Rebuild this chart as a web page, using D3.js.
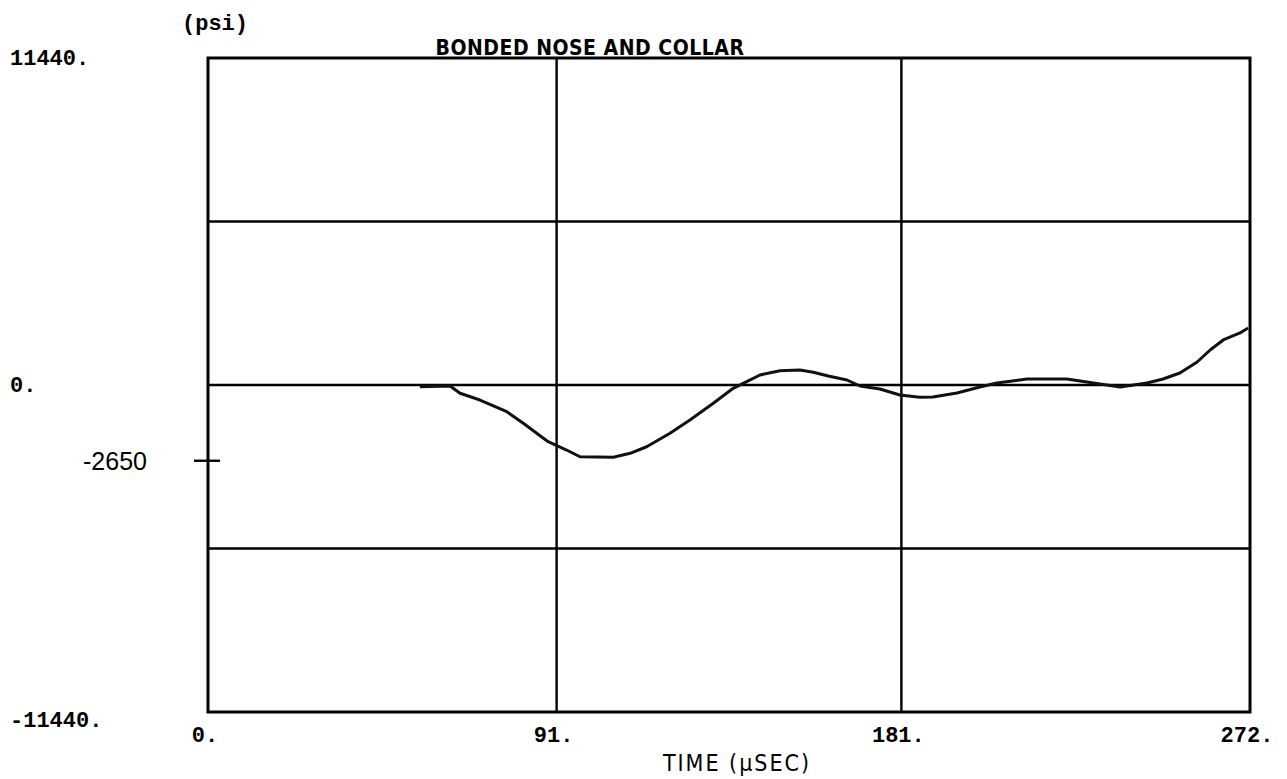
<!DOCTYPE html>
<html>
<head>
<meta charset="utf-8">
<script src="https://cdn.jsdelivr.net/npm/d3@7"></script>
<style>
  body { margin: 0; background: #fff; }
  .frame, .grid { fill: none; stroke: #000; }
  .trace { fill: none; stroke: #111; stroke-width: 3; stroke-linejoin: round; }
  .num { font-family: "Liberation Mono", monospace; font-weight: bold; font-size: 22px; }
</style>
</head>
<body>
<script>
// time (microseconds) and stress (psi)
var timeUs = [55.3, 63.2, 65.8, 71.0, 78.0, 82.3, 85.8, 88.8, 93.6, 97.1, 105.8, 110.2,
  114.5, 120.6, 125.8, 131.9, 137.1, 139.7, 144.1, 149.3, 154.5, 158.0, 161.9, 166.8,
  170.2, 175.4, 180.6, 185.8, 189.2, 195.5, 201.5, 205.9, 213.8, 224.2, 229.4, 238.1,
  245.1, 249.3, 253.7, 258.2, 261.6, 265.0, 269.4, 271.5];
var stressPsi = [-60, -35, -290, -525, -935, -1340, -1690, -1985, -2275, -2510, -2530, -2390,
  -2160, -1690, -1225, -640, -115, 60, 350, 500, 525, 445, 315, 175,
  -35, -140, -350, -430, -420, -280, -70, 70, 210, 210, 105, -70,
  70, 210, 420, 805, 1225, 1575, 1820, 1995];

var xTicks = [0, 91, 181, 272];
var xTickLabels = ["0.", "91.", "181.", "272."];
var yTicks = [11440, 0, -11440];
var yTickLabels = ["11440.", "0.", "-11440."];
var yGrid = [5720, 0, -5720];
var minMark = -2650;

var width = 1287, height = 779;
var margin = { top: 58, right: 37, bottom: 67, left: 208 };

var svg = d3.select("body").append("svg")
  .attr("width", width)
  .attr("height", height);

var x = d3.scaleLinear().domain([0, 272]).range([margin.left, width - margin.right]);
var y = d3.scaleLinear().domain([-11440, 11440]).range([height - margin.bottom, margin.top]);

// grid lines
svg.selectAll(".hgrid")
  .data(yGrid)
  .enter().append("line")
  .attr("class", "grid")
  .attr("x1", x(0)).attr("x2", x(272))
  .attr("y1", function (d) { return y(d); })
  .attr("y2", function (d) { return y(d); })
  .attr("stroke-width", 2.4);

svg.selectAll(".vgrid")
  .data(xTicks.slice(1, 3))
  .enter().append("line")
  .attr("class", "grid")
  .attr("y1", y(11440)).attr("y2", y(-11440))
  .attr("x1", function (d) { return x(d); })
  .attr("x2", function (d) { return x(d); })
  .attr("stroke-width", 2.4);

// frame
svg.append("rect")
  .attr("class", "frame")
  .attr("x", x(0)).attr("y", y(11440))
  .attr("width", x(272) - x(0))
  .attr("height", y(-11440) - y(11440))
  .attr("stroke-width", 3);

// marker for the minimum
svg.append("line")
  .attr("x1", x(0) - 14).attr("x2", x(0) + 12)
  .attr("y1", y(minMark)).attr("y2", y(minMark))
  .attr("stroke", "#000").attr("stroke-width", 2.4);

svg.append("text")
  .attr("x", 147).attr("y", y(minMark))
  .attr("dy", "0.36em")
  .attr("text-anchor", "end")
  .style("font-family", "Liberation Sans, Arial, sans-serif")
  .style("font-size", "25px")
  .text(minMark);

// curve
var line = d3.line()
  .x(function (d, i) { return x(timeUs[i]); })
  .y(function (d) { return y(d); });

svg.append("path")
  .datum(stressPsi)
  .attr("class", "trace")
  .attr("d", line);

// y labels
svg.selectAll(".ylab")
  .data(yTicks)
  .enter().append("text")
  .attr("class", "num")
  .attr("x", 10)
  .attr("y", function (d, i) { return y(d) + (i == 2 ? 8 : 0); })
  .attr("dy", "0.32em")
  .text(function (d, i) { return yTickLabels[i]; });

// x labels
svg.selectAll(".xlab")
  .data(xTicks)
  .enter().append("text")
  .attr("class", "num")
  .attr("x", function (d) { return x(d) - 3; })
  .attr("y", 742)
  .attr("text-anchor", "middle")
  .text(function (d, i) { return xTickLabels[i]; });

svg.append("text")
  .attr("class", "num")
  .attr("x", 182).attr("y", 30)
  .text("(psi)");

svg.append("text")
  .attr("x", 590).attr("y", 55)
  .attr("text-anchor", "middle")
  .style("font-family", "DejaVu Sans Condensed, DejaVu Sans, sans-serif")
  .style("font-weight", "bold")
  .style("font-size", "21px")
  .style("letter-spacing", "0.5px")
  .text("BONDED NOSE AND COLLAR");

svg.append("text")
  .attr("x", 737).attr("y", 771)
  .attr("text-anchor", "middle")
  .style("font-family", "DejaVu Sans Condensed, DejaVu Sans, sans-serif")
  .style("font-size", "23px")
  .style("letter-spacing", "2px")
  .text("TIME (\u00b5SEC)");
</script>
</body>
</html>
